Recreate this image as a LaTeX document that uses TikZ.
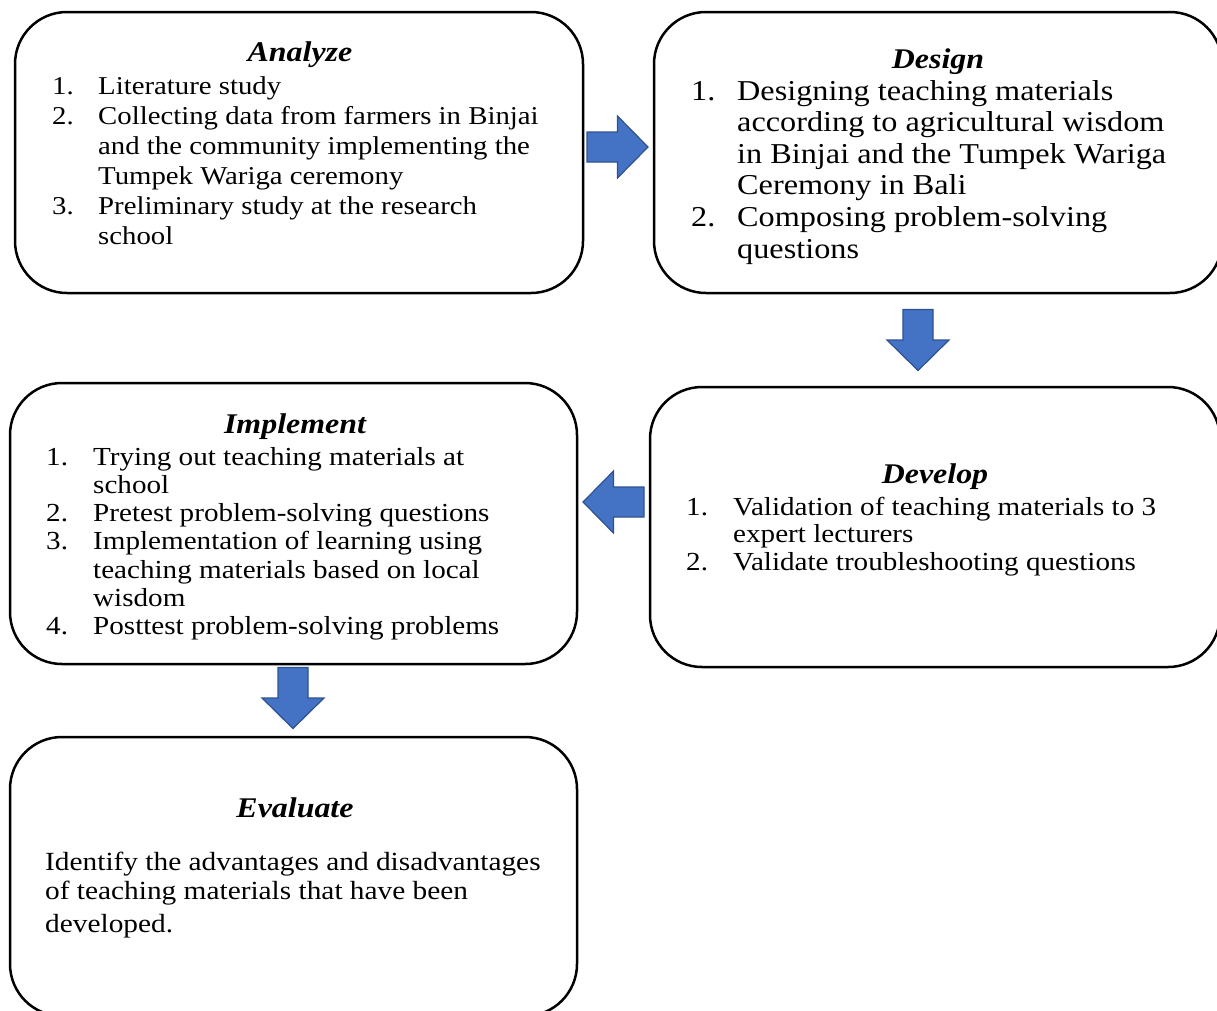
\documentclass[tikz,border=0pt]{standalone}
\usepackage{fontspec}
\setmainfont{Liberation Serif}[FakeStretch=1.12]
\definecolor{arrowfill}{HTML}{4472C4}
\definecolor{arrowdraw}{HTML}{2F528F}
\tikzset{
  stage/.style={draw=black, line width=2.5pt, rounded corners=52pt, inner sep=0pt, fill=white},
  heading/.style={font=\fontsize{28.5}{30}\selectfont\bfseries\itshape, inner sep=0pt, anchor=base},
  items/.style={inner sep=0pt, anchor=base west},
  blockarrow/.style={draw=arrowdraw, line width=1.2pt, fill=arrowfill, line join=miter}
}
% block arrow pointing right, centred at origin (length 61, head 62, shaft 30)
\newcommand\blockarrowpath{(-30.5,-15) -- (0,-15) -- (0,-31) -- (30.5,0) -- (0,31) -- (0,15) -- (-30.5,15) -- cycle}
\begin{document}
\begin{tikzpicture}[x=1pt,y=-1pt]
\useasboundingbox (0,0) rectangle (1217,1010);
% boxes
\node[stage, minimum width=568pt, minimum height=281pt] (analyze) at (299,152.5) {};
\node[stage, minimum width=568pt, minimum height=281pt] (design) at (938,152.5) {};
\node[stage, minimum width=567pt, minimum height=281pt] (implement) at (293.5,523.5) {};
\node[stage, minimum width=570pt, minimum height=280pt] (develop) at (935,527) {};
\node[stage, minimum width=567pt, minimum height=279pt] (evaluate) at (293.5,876.5) {};
% arrow anchor points
\coordinate (a1) at (617.5,147);
\coordinate (a2) at (918,340);
\coordinate (a3) at (613.5,502);
\coordinate (a4) at (293,698);
% arrows
\begin{scope}[shift={(a1)}]
  \draw[blockarrow] \blockarrowpath;
\end{scope}
\begin{scope}[shift={(a2)}, rotate=-90]
  \draw[blockarrow] \blockarrowpath;
\end{scope}
\begin{scope}[shift={(a3)}, rotate=180]
  \draw[blockarrow] \blockarrowpath;
\end{scope}
\begin{scope}[shift={(a4)}, rotate=-90]
  \draw[blockarrow] \blockarrowpath;
\end{scope}
% titles
\node[heading] (t1) at (300,61) {Analyze};
\node[heading] (t2) at (938,68) {Design};
\node[heading] (t3) at (295,433) {Implement};
\node[heading] (t4) at (935,483) {Develop};
\node[heading] (t5) at (295,817) {Evaluate};
% lists
\node[items, font=\fontsize{25.7}{30}\selectfont] (l1) at (52,94) {%
\begin{tabular}[t]{@{}l@{}l@{}}
\makebox[46pt][l]{1.} & Literature study\\
\makebox[46pt][l]{2.} & Collecting data from farmers in Binjai\\
 & and the community implementing the\\
 & Tumpek Wariga ceremony\\
\makebox[46pt][l]{3.} & Preliminary study at the research\\
 & school
\end{tabular}};
\node[items, font=\fontsize{28.8}{31.6}\selectfont] (l2) at (691,100) {%
\begin{tabular}[t]{@{}l@{}l@{}}
\makebox[46pt][l]{1.} & Designing teaching materials\\
 & according to agricultural wisdom\\
 & in Binjai and the Tumpek Wariga\\
 & Ceremony in Bali\\
\makebox[46pt][l]{2.} & Composing problem-solving\\
 & questions
\end{tabular}};
\node[items, font=\fontsize{26}{28.3}\selectfont] (l3) at (46,465) {%
\begin{tabular}[t]{@{}l@{}l@{}}
\makebox[47pt][l]{1.} & Trying out teaching materials at\\
 & school\\
\makebox[47pt][l]{2.} & Pretest problem-solving questions\\
\makebox[47pt][l]{3.} & Implementation of learning using\\
 & teaching materials based on local\\
 & wisdom\\
\makebox[47pt][l]{4.} & Posttest problem-solving problems
\end{tabular}};
\node[items, font=\fontsize{26}{27.5}\selectfont] (l4) at (686,515) {%
\begin{tabular}[t]{@{}l@{}l@{}}
\makebox[47pt][l]{1.} & Validation of teaching materials to 3\\
 & expert lecturers\\
\makebox[47pt][l]{2.} & Validate troubleshooting questions
\end{tabular}};
\node[items, font=\fontsize{26.2}{29}\selectfont] (l5) at (45,870) {%
\begin{tabular}[t]{@{}l@{}}
Identify the advantages and disadvantages\\
of teaching materials that have been\\[4pt]
developed.
\end{tabular}};
\end{tikzpicture}
\end{document}
